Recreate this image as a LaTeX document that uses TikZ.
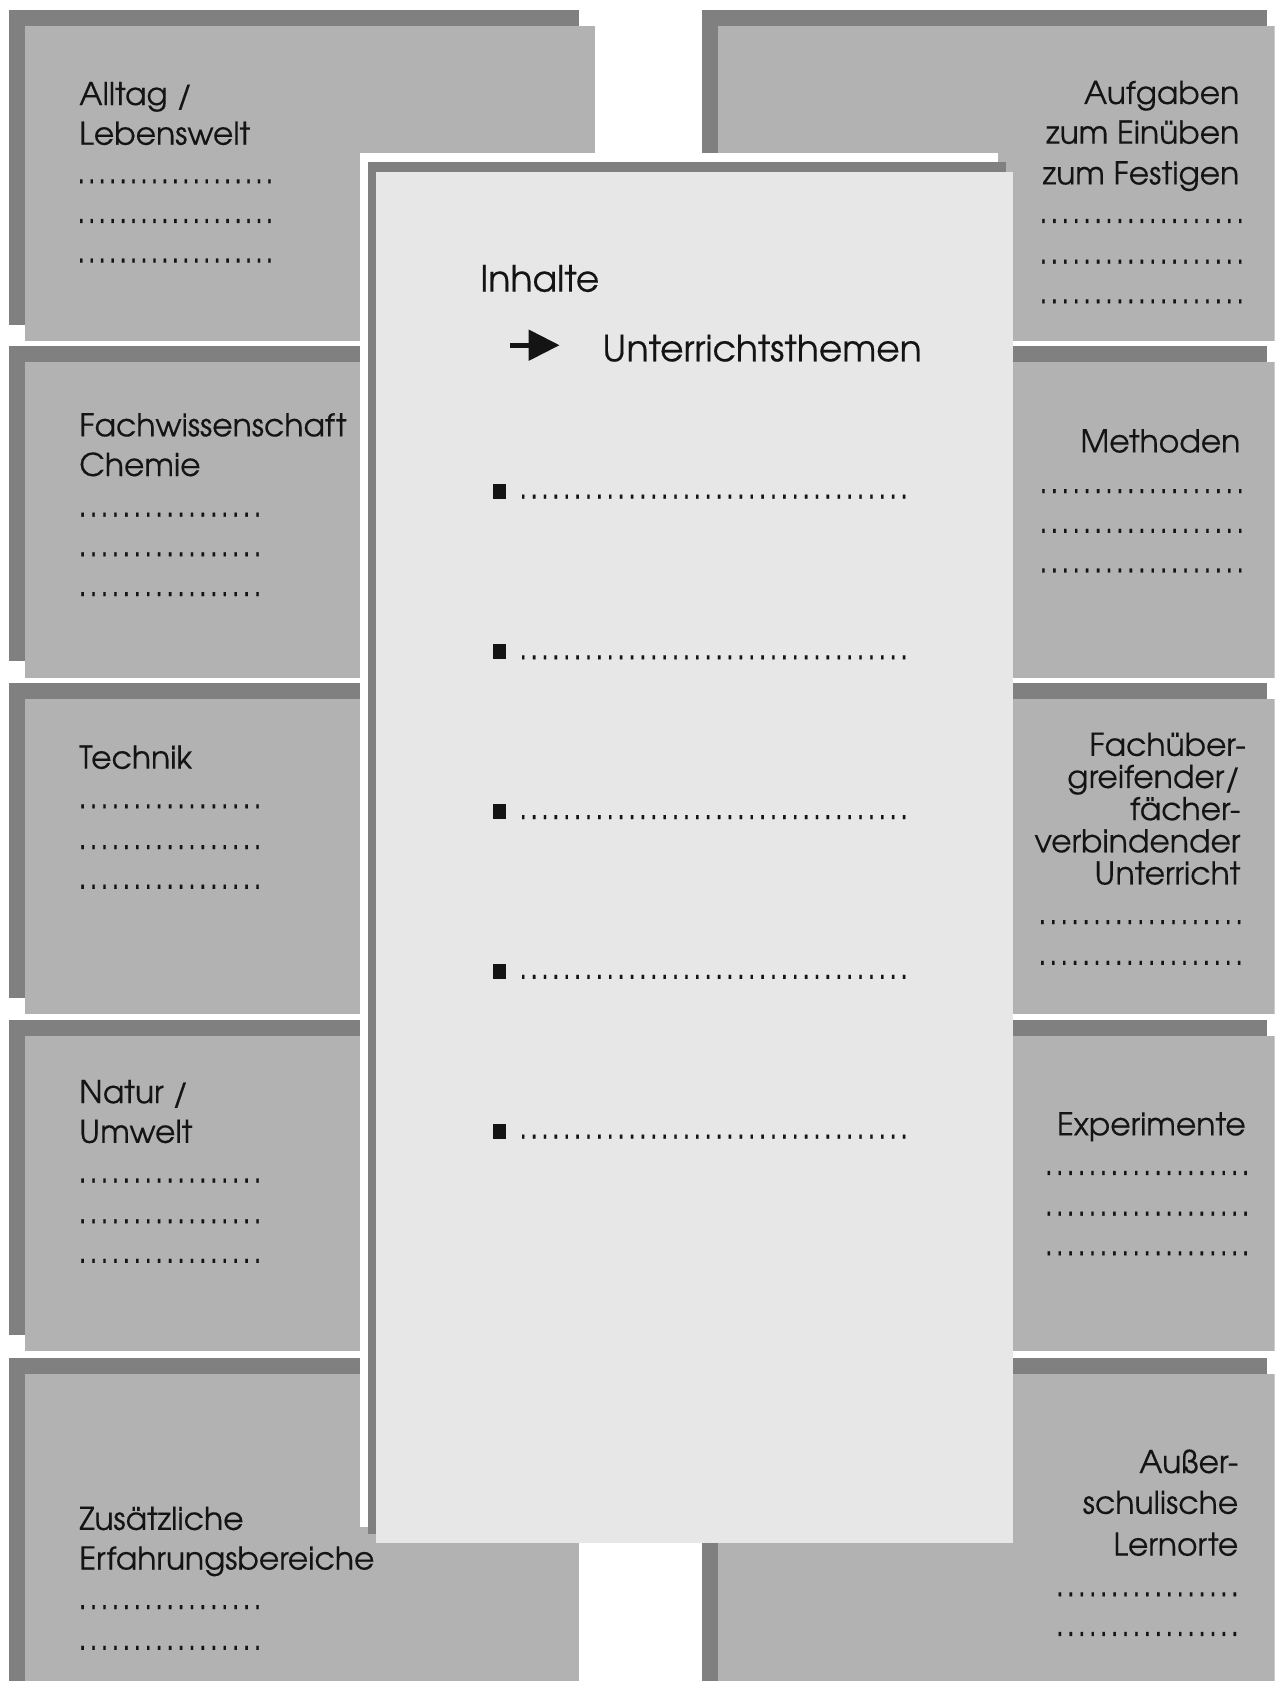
\documentclass[tikz,border=0pt]{standalone}
\usepackage{fontspec}
\setmainfont{TeX Gyre Adventor}[FakeBold=0.35]
\usetikzlibrary{arrows.meta}
\definecolor{shadowgray}{gray}{0.50}
\definecolor{boxgray}{gray}{0.70}
\definecolor{panelgray}{gray}{0.905}
\definecolor{ink}{gray}{0.08}
% row of n dots with spacing s (pt)
\newcommand\dotrow[2]{\hbox to \dimexpr #2pt*#1\relax{\leaders\hbox to #2pt{\hss.\hss}\hfill}}
\tikzset{
  lbl/.style={inner sep=0pt, outer sep=0pt, text=ink, font=\fontsize{29.3}{37}\selectfont},
  lblL/.style={lbl, anchor=base west},
  lblR/.style={lbl, anchor=base east},
  big/.style={inner sep=0pt, outer sep=0pt, text=ink, anchor=base west, font=\fontsize{33.7}{40}\selectfont},
  bullet/.style={fill=ink, minimum width=12pt, minimum height=14pt, inner sep=0pt, outer sep=0pt},
  arrowsty/.style={draw=ink, line width=5pt, -{Triangle[length=29pt,width=28pt]}},
}
\begin{document}
\begin{tikzpicture}[x=1pt,y=-1pt]
\useasboundingbox (0,0) rectangle (1189,1568);
\fill[white] (0,0) rectangle (1189,1568);
\begin{scope}
\clip (0,0) rectangle (1189,1568);
% ---------- left column ----------
\foreach \t in {24,338,652,966}{
  \fill[shadowgray] (8,\t-15) rectangle (540,\t+279);
  \fill[boxgray] (23,\t) rectangle (555,\t+294);
}
\fill[shadowgray] (8,1267) rectangle (525,1600);
\fill[boxgray] (23,1282) rectangle (540,1600);
% ---------- right column ----------
\foreach \t in {24,338,652,966}{
  \fill[shadowgray] (655,\t-15) rectangle (1182,\t+279);
  \fill[boxgray] (670,\t) rectangle (1200,\t+294);
}
\fill[shadowgray] (655,1267) rectangle (1182,1600);
\fill[boxgray] (670,1282) rectangle (1200,1600);
% ---------- central panel ----------
\fill[white] (336,143) rectangle (931,1424);
\fill[shadowgray] (343,151) rectangle (938,1431);
\fill[panelgray] (351,160) rectangle (945,1439);
\end{scope}

% ---------- left texts ----------
\node[lblL] (l1a) at (74,98) {Alltag /};
\node[lblL] (l1b) at (74,135) {Lebenswelt};
\node[lblL] (l1d1) at (71,171) {\dotrow{19}{9.75}};
\node[lblL] (l1d2) at (71,208) {\dotrow{19}{9.75}};
\node[lblL] (l1d3) at (71,245) {\dotrow{19}{9.75}};

\node[lblL] (l2a) at (74,407) {Fachwissenschaft};
\node[lblL] (l2b) at (74,444) {Chemie};
\node[lblL] (l2d1) at (72,482) {\dotrow{17}{10.2}};
\node[lblL] (l2d2) at (72,519) {\dotrow{17}{10.2}};
\node[lblL] (l2d3) at (72,556) {\dotrow{17}{10.2}};

\node[lblL] (l3a) at (74,717) {Technik};
\node[lblL] (l3d1) at (72,754) {\dotrow{17}{10.2}};
\node[lblL] (l3d2) at (72,792) {\dotrow{17}{10.2}};
\node[lblL] (l3d3) at (72,829) {\dotrow{17}{10.2}};

\node[lblL] (l4a) at (74,1029) {Natur /};
\node[lblL] (l4b) at (74,1066) {Umwelt};
\node[lblL] (l4d1) at (72,1103) {\dotrow{17}{10.2}};
\node[lblL] (l4d2) at (72,1141) {\dotrow{17}{10.2}};
\node[lblL] (l4d3) at (72,1178) {\dotrow{17}{10.2}};

\node[lblL] (l5a) at (74,1427) {Zusätzliche};
\node[lblL] (l5b) at (74,1464) {Erfahrungsbereiche};
\node[lblL] (l5d1) at (72,1501) {\dotrow{17}{10.2}};
\node[lblL] (l5d2) at (72,1539) {\dotrow{17}{10.2}};

% ---------- right texts ----------
\node[lblR] (r1a) at (1156,97) {Aufgaben};
\node[lblR] (r1b) at (1156,134) {zum Einüben};
\node[lblR] (r1c) at (1156,172) {zum Festigen};
\node[lblR] (r1d1) at (1162,208) {\dotrow{19}{10.2}};
\node[lblR] (r1d2) at (1162,246) {\dotrow{19}{10.2}};
\node[lblR] (r1d3) at (1162,283) {\dotrow{19}{10.2}};

\node[lblR] (r2a) at (1157,422) {Methoden};
\node[lblR] (r2d1) at (1162,460) {\dotrow{19}{10.2}};
\node[lblR] (r2d2) at (1162,497) {\dotrow{19}{10.2}};
\node[lblR] (r2d3) at (1162,534) {\dotrow{19}{10.2}};

\node[lblR] (r3a) at (1162,705) {Fachüber-};
\node[lblR] (r3b) at (1157,735) {greifender/};
\node[lblR] (r3c) at (1157,765) {fächer-};
\node[lblR] (r3d) at (1157,795) {verbindender};
\node[lblR] (r3e) at (1157,825) {Unterricht};
\node[lblR] (r3d1) at (1161,862) {\dotrow{19}{10.2}};
\node[lblR] (r3d2) at (1161,900) {\dotrow{19}{10.2}};

\node[lblR] (r4a) at (1162,1059) {Experimente};
\node[lblR] (r4d1) at (1167,1096) {\dotrow{19}{10.2}};
\node[lblR] (r4d2) at (1167,1134) {\dotrow{19}{10.2}};
\node[lblR] (r4d3) at (1167,1171) {\dotrow{19}{10.2}};

\node[lblR] (r5a) at (1155,1374) {Außer-};
\node[lblR] (r5b) at (1155,1412) {schulische};
\node[lblR] (r5c) at (1155,1451) {Lernorte};
\node[lblR] (r5d1) at (1157,1489) {\dotrow{17}{10.2}};
\node[lblR] (r5d2) at (1157,1526) {\dotrow{17}{10.2}};

% ---------- central texts ----------
\node[big] (inh) at (448,272) {Inhalte};
\coordinate (arrS) at (476,322);
\coordinate (arrE) at (522,322);
\draw[arrowsty] (arrS) -- (arrE);
\node[big] (uth) at (562,337) {Unterrichtsthemen};
\foreach \y [count=\i] in {458,608,757,906,1055}{
  \node[bullet] (b\i) at (466,\y) {};
  \node[lblL] (bd\i) at (483,\y+7) {\dotrow{36}{10.15}};
}
\end{tikzpicture}
\end{document}
